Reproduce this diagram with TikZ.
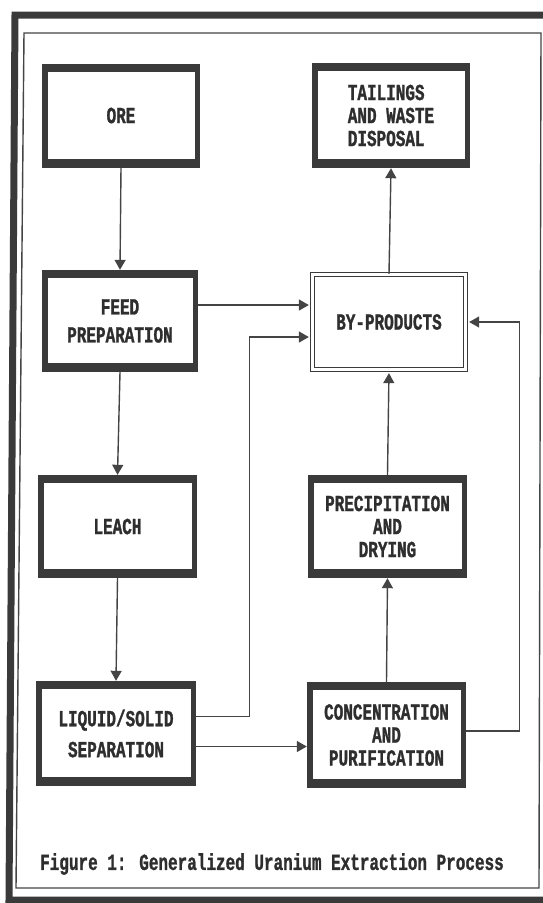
\documentclass[tikz,border=0pt]{standalone}
\usepackage{fontspec}
\usetikzlibrary{arrows.meta}
\newfontfamily\dosfont[FakeStretch=0.695,BoldFeatures={FakeBold=1.2}]{Liberation Mono}
\definecolor{boxc}{HTML}{3A3A3A}
\definecolor{linec}{HTML}{444444}
\definecolor{txtc}{HTML}{2E2E2E}

\begin{document}
\begin{tikzpicture}[x=1pt,y=-1pt,
    frame/.style={draw=boxc,line width=7pt,line join=miter},
    inframe/.style={draw=linec,line width=1.4pt},
    blk/.style={rectangle,fill=boxc,inner sep=0pt,minimum width=158pt,minimum height=104pt,
        text=txtc,font=\dosfont\bfseries\fontsize{23}{17}\selectfont,align=center,
        path picture={\fill[white] ([shift={(6pt,-8pt)}]path picture bounding box.north west)
            rectangle ([shift={(-5pt,9pt)}]path picture bounding box.south east);}},
    three/.style={font=\dosfont\bfseries\fontsize{23}{23}\selectfont},
    byp/.style={rectangle,draw=boxc,line width=1.3pt,double=white,double distance=2.4pt,
        inner sep=0pt,minimum width=153pt,minimum height=95pt,
        text=txtc,font=\dosfont\bfseries\fontsize{23}{17}\selectfont},
    flow/.style={draw=linec,line width=1.4pt,-{Triangle[length=10pt,width=11pt]}},
]
	\useasboundingbox (0,0) rectangle (543,903);
	\draw[frame] (15,15) -- (560,15) -- (560,900) -- (9,900) -- cycle;
	\draw[inframe] (24,33) -- (541,33) -- (539,888) -- (16,888) -- cycle;

	% left column
	\node[blk] at (121,115.5) (ORE) {ORE};
	\node[blk,minimum width=156pt,minimum height=102pt] at (120,321) (FEED) {FEED\\[11pt]PREPARATION};
	\node[blk,minimum width=159pt,minimum height=103pt] at (117.5,526.5) (LEACH) {LEACH};
	\node[blk,minimum width=160pt,minimum height=105pt] at (116,733.5) (LIQ) {LIQUID/SOLID\\[10pt]SEPARATION};

	% right column
	\node[blk,three,minimum height=105pt,align=left] at (391,115.5) (TAIL) {TAILINGS\\AND WASTE\\DISPOSAL};
	\node[byp] at (389,322) (BYP) {BY-PRODUCTS};
	\node[blk,three,minimum width=159pt,minimum height=103pt] at (387.5,526.5) (PREC) {PRECIPITATION\\AND\\DRYING};
	\node[blk,three,minimum width=159pt,minimum height=106pt] at (386.5,735) (CONC) {CONCENTRATION\\AND\\PURIFICATION};

	\node[text=txtc,font=\dosfont\bfseries\fontsize{23}{17}\selectfont] at (272,864) (caption)
		{Figure 1: Generalized Uranium Extraction Process};

	\draw[flow] (ORE.south) -- (FEED.north);
	\draw[flow] (FEED.south) -- (LEACH.north);
	\draw[flow] (LEACH.south) -- (LIQ.north);
	\draw[flow,shorten >=3pt] ([yshift=16pt]FEED.east) -- ([yshift=16pt]FEED.east -| BYP.west);
	\draw[flow,shorten >=3pt] ([yshift=17pt]LIQ.east) -- ++(53,0) |- ([yshift=-15pt]BYP.west); % liquor
	\draw[flow] ([yshift=-13pt]LIQ.east) -- ([yshift=-13pt]LIQ.east -| CONC.west);
	\draw[flow] (CONC.north) -- (PREC.south);
	\draw[flow,shorten >=3pt] (PREC.north) -- (BYP.south);
	\draw[flow] (BYP.north) -- (TAIL.south);
	\draw[flow,shorten >=3pt] ([yshift=4pt]CONC.east) -- ++(53,0) |- (BYP.east); % raffinate
\end{tikzpicture}
\end{document}
